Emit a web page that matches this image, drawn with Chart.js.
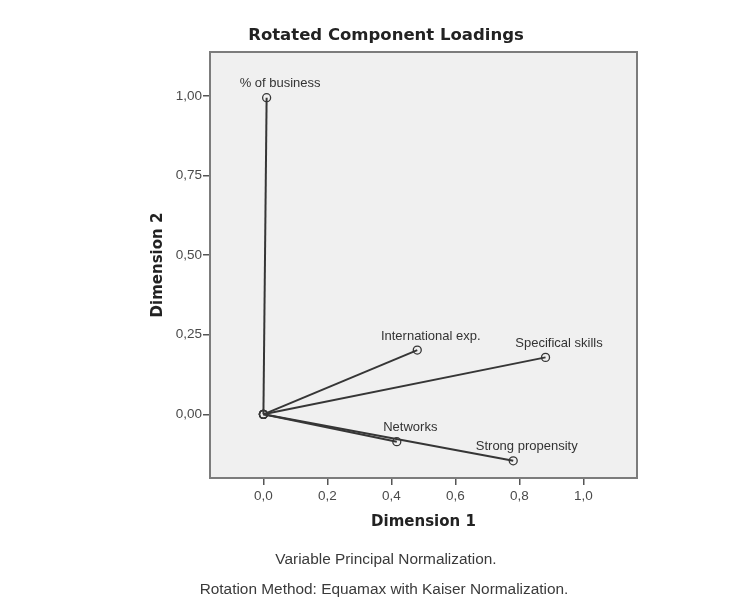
<!DOCTYPE html>
<html><head><meta charset="utf-8">
<script src="https://cdn.jsdelivr.net/npm/chart.js@4.4.1/dist/chart.umd.min.js"></script>
<style>html,body{margin:0;padding:0;background:#fff;} canvas{display:block;}</style>
</head><body>
<canvas id="c" width="752" height="607"></canvas>
<script>
const variables = ["% of business", "International exp.", "Specifical skills", "Networks", "Strong propensity"];
const dimension1 = [0.010, 0.481, 0.882, 0.417, 0.781];
const dimension2 = [0.995, 0.202, 0.179, -0.086, -0.146];
const xTickValues = [0, 0.2, 0.4, 0.6, 0.8, 1.0];
const xTickLabels = ["0,0", "0,2", "0,4", "0,6", "0,8", "1,0"];
const yTickValues = [0, 0.25, 0.5, 0.75, 1.0];
const yTickLabels = ["0,00", "0,25", "0,50", "0,75", "1,00"];
const chartTitle = "Rotated Component Loadings";
const xAxisTitle = "Dimension 1";
const yAxisTitle = "Dimension 2";
const footnotes = ["Variable Principal Normalization.", "Rotation Method: Equamax with Kaiser Normalization."];

const LINE = '#363636';

const datasets = variables.map((name, i) => ({
  label: name,
  data: [{x: 0, y: 0}, {x: dimension1[i], y: dimension2[i]}],
  showLine: true,
  borderColor: LINE,
  borderWidth: 2,
  pointRadius: 4,
  pointHoverRadius: 4,
  pointBorderWidth: 1.3,
  pointBorderColor: LINE,
  pointBackgroundColor: 'rgba(0,0,0,0)',
  pointStyle: 'circle'
}));

const framePlugin = {
  id: 'frame',
  beforeDraw(chart) {
    const {ctx, chartArea: a} = chart;
    ctx.save();
    ctx.fillStyle = '#ffffff';
    ctx.fillRect(0, 0, chart.width, chart.height);
    ctx.fillStyle = '#f0f0f0';
    ctx.fillRect(a.left, a.top, a.right - a.left, a.bottom - a.top);
    ctx.restore();
  },
  beforeDatasetsDraw(chart) {
    const {ctx, chartArea: a} = chart;
    ctx.save();
    ctx.strokeStyle = '#7c7c7c';
    ctx.lineWidth = 2;
    ctx.strokeRect(a.left, a.top, a.right - a.left, a.bottom - a.top);
    ctx.restore();
  },
  afterDatasetsDraw(chart) {
    const {ctx} = chart;
    const xs = chart.scales.x, ys = chart.scales.y;
    ctx.save();
    ctx.font = '13px "Liberation Sans", Arial, sans-serif';
    ctx.fillStyle = '#333333';
    ctx.textAlign = 'center';
    ctx.textBaseline = 'middle';
    variables.forEach((name, i) => {
      const px = xs.getPixelForValue(dimension1[i]);
      const py = ys.getPixelForValue(dimension2[i]);
      ctx.fillText(name, px + 13.5, py - 14);
    });
    ctx.restore();
  },
  afterDraw(chart) {
    const {ctx} = chart;
    ctx.save();
    ctx.textAlign = 'center';
    ctx.textBaseline = 'middle';
    ctx.fillStyle = '#222222';
    ctx.font = 'bold 16.5px "DejaVu Sans", sans-serif';
    ctx.fillText(chartTitle, 386, 36);
    ctx.fillStyle = '#3a3a3a';
    ctx.font = '15.4px "Liberation Sans", Arial, sans-serif';
    ctx.fillText(footnotes[0], 386, 560);
    ctx.fillText(footnotes[1], 384, 590);
    ctx.restore();
  }
};

new Chart(document.getElementById('c'), {
  type: 'scatter',
  data: {datasets},
  plugins: [framePlugin],
  options: {
    responsive: false,
    animation: false,
    events: [],
    layout: {padding: {left: 140, right: 115, top: 52, bottom: 69}},
    plugins: {legend: {display: false}, title: {display: false}, tooltip: {enabled: false}},
    scales: {
      x: {
        type: 'linear',
        min: -0.167, max: 1.168,
        afterBuildTicks: s => { s.ticks = xTickValues.map(v => ({value: v})); },
        afterFit: s => { s.height = 60; },
        border: {display: false},
        grid: {display: true, drawOnChartArea: false, drawTicks: true, tickLength: 7, color: '#555555', lineWidth: 1.5},
        ticks: {
          padding: 3,
          color: '#4a4a4a',
          font: {family: '"Liberation Sans", Arial, sans-serif', size: 13.5},
          maxRotation: 0, autoSkip: false,
          callback: (v, i) => xTickLabels[xTickValues.indexOf(v)] ?? xTickLabels[i]
        },
        title: {display: true, text: xAxisTitle, color: '#222222',
          font: {family: '"DejaVu Sans", sans-serif', size: 15, weight: 'bold'},
          padding: {top: 0, bottom: 7}}
      },
      y: {
        type: 'linear',
        min: -0.2, max: 1.1385,
        afterBuildTicks: s => { s.ticks = yTickValues.map(v => ({value: v})); },
        afterFit: s => { s.width = 70; },
        border: {display: false},
        grid: {display: true, drawOnChartArea: false, drawTicks: true, tickLength: 7, color: '#555555', lineWidth: 1.5},
        ticks: {
          padding: 1,
          color: '#4a4a4a',
          font: {family: '"Liberation Sans", Arial, sans-serif', size: 13.5},
          autoSkip: false,
          callback: (v, i) => yTickLabels[yTickValues.indexOf(v)] ?? yTickLabels[i]
        },
        title: {display: true, text: yAxisTitle, color: '#222222',
          font: {family: '"DejaVu Sans", sans-serif', size: 15, weight: 'bold'},
          padding: {top: 9, bottom: 0}}
      }
    }
  }
});
</script>
</body></html>
